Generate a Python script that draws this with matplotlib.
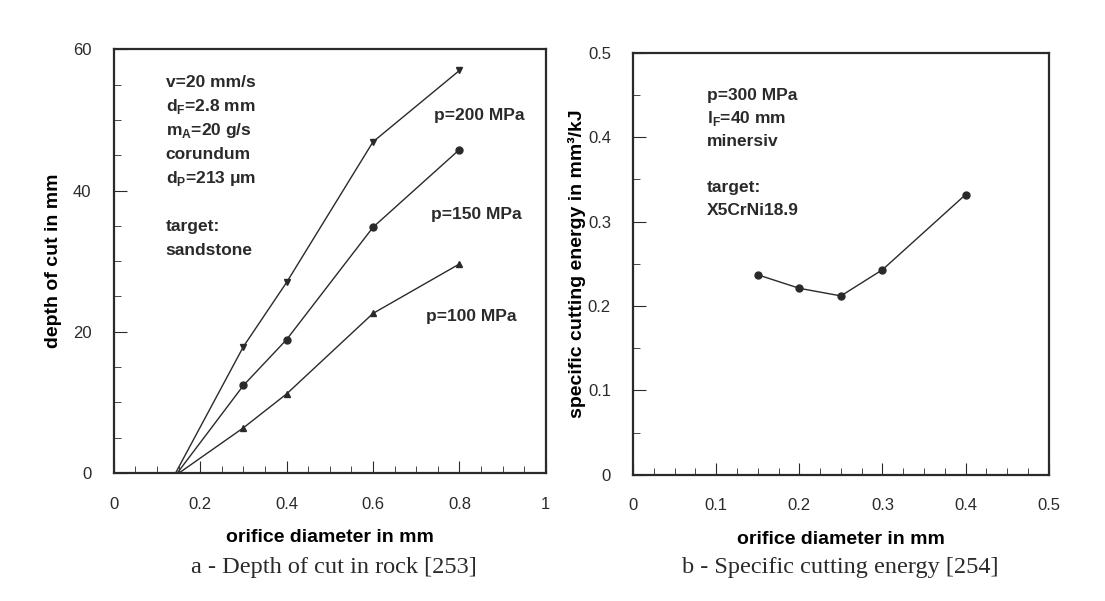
import matplotlib
matplotlib.use("Agg")
import matplotlib.pyplot as plt
from matplotlib.ticker import MultipleLocator, FormatStrFormatter

plt.rcParams['font.family'] = ['Liberation Sans', 'DejaVu Sans']
plt.rcParams['mathtext.fontset'] = 'custom'
plt.rcParams['mathtext.sf'] = 'Liberation Sans:bold'
plt.rcParams['mathtext.rm'] = 'Liberation Sans:bold'

# -------------------------------
# DATA
# -------------------------------
# left panel: depth of cut vs orifice diameter
diam_a = [0.3, 0.4, 0.6, 0.8]
depth_200 = [17.9, 27.0, 46.9, 57.0]
depth_150 = [12.4, 18.9, 34.8, 45.8]
depth_100 = [6.4, 11.2, 22.6, 29.6]
# where each line meets zero depth
x0_200, x0_150, x0_100 = 0.143, 0.147, 0.151

# right panel: specific cutting energy
diam_b = [0.15, 0.2, 0.25, 0.3, 0.4]
energy = [0.237, 0.221, 0.212, 0.243, 0.332]

ink = '#2a2a2a'
txt_font = ['Liberation Sans', 'DejaVu Sans']

fig = plt.figure(figsize=(11.05, 6.01), dpi=100)
ax1 = fig.add_axes([0.103, 0.213, 0.391, 0.705])
ax2 = fig.add_axes([0.573, 0.210, 0.376, 0.702])

# -------------------------------
# LEFT: depth of cut
# -------------------------------
for x0, ys, mk in [(x0_200, depth_200, 'v'), (x0_150, depth_150, 'o'), (x0_100, depth_100, '^')]:
    ax1.plot([x0] + diam_a, [0] + ys, color=ink, lw=1.0)
    ax1.plot(diam_a, ys, ls='none', marker=mk, ms=5, color=ink)

ax1.set_xlim(0, 1)
ax1.set_ylim(0, 60)
ax1.xaxis.set_major_locator(MultipleLocator(0.2))
ax1.xaxis.set_minor_locator(MultipleLocator(0.05))
ax1.yaxis.set_major_locator(MultipleLocator(20))
ax1.yaxis.set_minor_locator(MultipleLocator(5))
ax1.xaxis.set_major_formatter(FormatStrFormatter('%g'))
ax1.set_ylabel('depth of cut in mm', fontsize=14, fontweight='bold')
ax1.yaxis.set_label_coords(-0.12, 0.5)
ax1.set_xlabel('orifice diameter in mm', fontsize=14, fontweight='bold')
ax1.xaxis.set_label_coords(0.5, -0.133)

info_a = ['v=20 mm/s', r'd$_\mathsf{F}$=2.8 mm', r'm$_\mathsf{A}$=20 g/s',
          'corundum', r'd$_\mathsf{P}$=213 μm', '', 'target:', 'sandstone']
for i, line in enumerate(info_a):
    ax1.text(0.12, 0.922 - i * 0.0566, line, transform=ax1.transAxes,
             fontsize=12.5, fontweight='bold', color=ink, va='center', family=txt_font)

ax1.text(0.74, 50.6, 'p=200 MPa', fontsize=12.5, fontweight='bold', color=ink, va='center', family=txt_font)
ax1.text(0.733, 36.6, 'p=150 MPa', fontsize=12.5, fontweight='bold', color=ink, va='center', family=txt_font)
ax1.text(0.723, 22.2, 'p=100 MPa', fontsize=12.5, fontweight='bold', color=ink, va='center', family=txt_font)

# -------------------------------
# RIGHT: specific cutting energy
# -------------------------------
ax2.plot(diam_b, energy, color=ink, lw=1.0, marker='o', ms=5)
ax2.set_xlim(0, 0.5)
ax2.set_ylim(0, 0.5)
ax2.xaxis.set_major_locator(MultipleLocator(0.1))
ax2.xaxis.set_minor_locator(MultipleLocator(0.025))
ax2.yaxis.set_major_locator(MultipleLocator(0.1))
ax2.yaxis.set_minor_locator(MultipleLocator(0.05))
ax2.xaxis.set_major_formatter(FormatStrFormatter('%g'))
ax2.yaxis.set_major_formatter(FormatStrFormatter('%g'))
ax2.set_ylabel('specific cutting energy in mm³/kJ', fontsize=14, fontweight='bold')
ax2.yaxis.set_label_coords(-0.113, 0.5)
ax2.set_xlabel('orifice diameter in mm', fontsize=14, fontweight='bold')
ax2.xaxis.set_label_coords(0.5, -0.133)

info_b = ['p=300 MPa', r'l$_\mathsf{F}$=40 mm', 'minersiv', '', 'target:', 'X5CrNi18.9']
for i, line in enumerate(info_b):
    ax2.text(0.178, 0.898 - i * 0.0545, line, transform=ax2.transAxes,
             fontsize=12.5, fontweight='bold', color=ink, va='center', family=txt_font)

for ax in (ax1, ax2):
    ax.tick_params(which='both', direction='in', top=False, right=False, colors=ink, labelsize=12)
    ax.tick_params(which='major', length=9)
    ax.tick_params(which='minor', length=5)
    ax.tick_params(axis='x', which='major', pad=17)
    ax.tick_params(axis='y', which='major', pad=16)
    for sp in ax.spines.values():
        sp.set_linewidth(1.6)
        sp.set_color(ink)

fig.text(0.302, 0.055, 'a - Depth of cut in rock [253]', ha='center', va='center',
         fontsize=17.5, family=['Liberation Serif', 'DejaVu Serif'], color=ink)
fig.text(0.76, 0.055, 'b - Specific cutting energy [254]', ha='center', va='center',
         fontsize=17.5, family=['Liberation Serif', 'DejaVu Serif'], color=ink)

fig.savefig('out.png', dpi=100)
